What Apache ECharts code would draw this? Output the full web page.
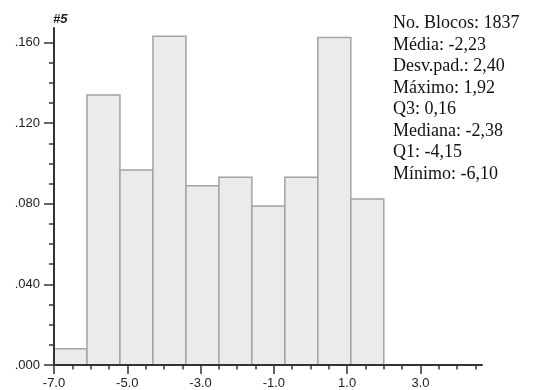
<!DOCTYPE html>
<html>
<head>
<meta charset="utf-8">
<script src="https://cdn.jsdelivr.net/npm/echarts@6/dist/echarts.min.js"></script>
<style>
  html, body { margin: 0; padding: 0; background: #fff; }
  #chart { width: 533px; height: 390px; }
</style>
</head>
<body>
<div id="chart"></div>
<script>
// Histogram bins (lower / upper edges) and relative frequencies
const binLow  = [-7.0, -6.1, -5.2, -4.3, -3.4, -2.5, -1.6, -0.7, 0.2, 1.1];
const binHigh = [-6.1, -5.2, -4.3, -3.4, -2.5, -1.6, -0.7, 0.2, 1.1, 2.0];
const freq    = [0.0081, 0.1340, 0.0968, 0.1631, 0.0889, 0.0932, 0.0789, 0.0932, 0.1625, 0.0823];

// Axis ticks
const xMajorTicks = [-7, -5, -3, -1, 1, 3];
const xMinorStep = 0.5;
const xMinorLast = 4.5;
const yMajorTicks = [0, 0.04, 0.08, 0.12, 0.16];
const yMinorStep = 0.01;
const yMinorLast = 0.16;

// Summary statistics block
const statLines = [
  'No. Blocos: 1837',
  'Média: -2,23',
  'Desv.pad.: 2,40',
  'Máximo: 1,92',
  'Q3: 0,16',
  'Mediana: -2,38',
  'Q1: -4,15',
  'Mínimo: -6,10'
];
const chartTitle = '#5';

function stepValues(start, last, step) {
  const out = [];
  const n = Math.round((last - start) / step);
  for (let i = 0; i <= n; i++) out.push(+(start + i * step).toFixed(4));
  return out;
}

const xMin = -7, xMax = 4.68;
const yMin = 0, yMax = 0.1672;
const axisColor = '#333';
const labelStyle = { color: '#222', fontFamily: 'Liberation Sans', fontSize: 13 };

const chart = echarts.init(document.getElementById('chart'), null, { renderer: 'canvas' });

chart.setOption({
  animation: false,
  backgroundColor: '#fff',
  grid: { left: 54, right: 51, top: 28, bottom: 25 },
  title: {
    text: chartTitle, left: 53, top: 13, padding: 0,
    textStyle: { fontFamily: 'Liberation Sans', fontSize: 13, fontWeight: 'bold', fontStyle: 'italic', color: '#222' }
  },
  graphic: [{
    type: 'text', left: 393, top: 13,
    style: {
      text: statLines.join('\n'),
      font: '18px "Liberation Serif"',
      lineHeight: 21.5,
      fill: '#111'
    }
  }],
  xAxis: [{
    type: 'value', min: xMin, max: xMax, z: 5,
    splitLine: { show: false },
    axisLine: { show: true, onZero: false, lineStyle: { color: axisColor, width: 2 } },
    axisTick: { show: true, length: 9, customValues: xMajorTicks, lineStyle: { color: axisColor, width: 1.5 } },
    axisLabel: { customValues: xMajorTicks, margin: 12, formatter: v => v.toFixed(1), ...labelStyle }
  }, {
    type: 'value', min: xMin, max: xMax, position: 'bottom', z: 5,
    splitLine: { show: false },
    axisLine: { show: false, onZero: false },
    axisTick: { show: true, length: 4.5, customValues: stepValues(xMin, xMinorLast, xMinorStep), lineStyle: { color: axisColor, width: 1.5 } },
    axisLabel: { show: false }
  }],
  yAxis: [{
    type: 'value', min: yMin, max: yMax, z: 5,
    splitLine: { show: false },
    axisLine: { show: true, onZero: false, lineStyle: { color: axisColor, width: 2 } },
    axisTick: { show: true, length: 10, customValues: yMajorTicks, lineStyle: { color: axisColor, width: 1.5 } },
    axisLabel: { customValues: yMajorTicks, margin: 14, formatter: v => v.toFixed(3).replace(/^0/, ''), ...labelStyle }
  }, {
    type: 'value', min: yMin, max: yMax, position: 'left', z: 5,
    splitLine: { show: false },
    axisLine: { show: false, onZero: false },
    axisTick: { show: true, length: 5, customValues: stepValues(yMin, yMinorLast, yMinorStep), lineStyle: { color: axisColor, width: 1.5 } },
    axisLabel: { show: false }
  }],
  series: [{
    type: 'custom',
    xAxisIndex: 0, yAxisIndex: 0,
    data: binLow.map((lo, i) => [lo, binHigh[i], freq[i]]),
    encode: { x: [0, 1], y: 2 },
    renderItem(params, api) {
      const topLeft = api.coord([api.value(0), api.value(2)]);
      const bottomRight = api.coord([api.value(1), 0]);
      return {
        type: 'rect',
        shape: {
          x: topLeft[0], y: topLeft[1],
          width: bottomRight[0] - topLeft[0],
          height: bottomRight[1] - topLeft[1]
        },
        style: { fill: '#ebebeb', stroke: '#a3a3a3', lineWidth: 1.5 }
      };
    }
  }]
});
</script>
</body>
</html>
